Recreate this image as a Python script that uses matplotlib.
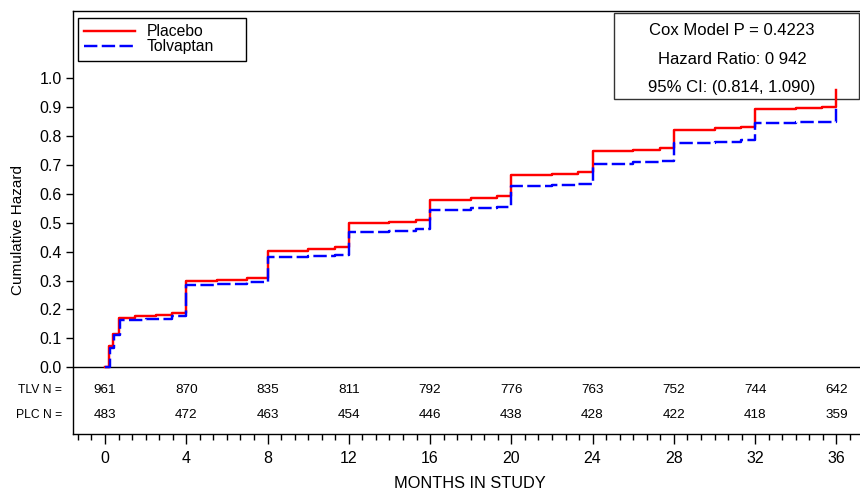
import matplotlib
matplotlib.use("Agg")
import matplotlib.pyplot as plt
from matplotlib.patches import Rectangle
from matplotlib.ticker import MultipleLocator
import matplotlib.transforms as mtransforms

plt.rcParams['font.family'] = ['Liberation Sans', 'DejaVu Sans']

# ---- data ----
plc_t = [0, 0.21, 0.41, 0.69, 1.5, 2.5, 3.3, 4.0, 5.5, 7.0, 8.0, 10.0, 11.3, 12.0, 14.0, 15.3,
         16.0, 18.0, 19.3, 20.0, 22.0, 23.3, 24.0, 26.0, 27.3, 28.0, 30.0, 31.3, 32.0, 34.0, 35.3, 36.0]
plc_h = [0, 0.072, 0.116, 0.170, 0.176, 0.182, 0.188, 0.297, 0.303, 0.310, 0.404, 0.410, 0.415, 0.499, 0.503, 0.508,
         0.580, 0.585, 0.591, 0.666, 0.670, 0.675, 0.749, 0.753, 0.758, 0.822, 0.827, 0.833, 0.893, 0.897, 0.900, 0.958]

tlv_t = [0, 0.23, 0.45, 0.72, 2.0, 3.3, 4.0, 5.5, 7.0, 8.0, 10.0, 11.3, 12.0, 14.0, 15.3,
         16.0, 18.0, 19.3, 20.0, 22.0, 23.3, 24.0, 26.0, 27.3, 28.0, 30.0, 31.3, 32.0, 34.0, 36.0]
tlv_h = [0, 0.066, 0.110, 0.162, 0.168, 0.177, 0.283, 0.288, 0.296, 0.380, 0.385, 0.390, 0.469, 0.473, 0.478,
         0.545, 0.550, 0.556, 0.628, 0.631, 0.634, 0.704, 0.709, 0.715, 0.776, 0.781, 0.787, 0.845, 0.848, 0.900]

risk_months = [0, 4, 8, 12, 16, 20, 24, 28, 32, 36]
tlv_n = [961, 870, 835, 811, 792, 776, 763, 752, 744, 642]
plc_n = [483, 472, 463, 454, 446, 438, 428, 422, 418, 359]

stats_lines = ["Cox Model P = 0.4223", "Hazard Ratio: 0 942", "95% CI: (0.814, 1.090)"]

# ---- figure ----
W, H = 860, 493
AW = W - 73
AH = 434 - 11
fig = plt.figure(figsize=(W / 100, H / 100), dpi=100)
ax = fig.add_axes([73 / W, 1 - 434 / H, AW / W, AH / H])

ax.plot(plc_t, plc_h, drawstyle='steps-post', color='#ff0000', lw=1.75, label='Placebo', zorder=3)
ax.plot(tlv_t, tlv_h, drawstyle='steps-post', color='#0000ff', lw=1.75, ls=(0, (5.5, 1.8)),
        label='Tolvaptan', zorder=4)

ax.axhline(0, color='black', lw=1.0, zorder=2)

ax.set_xlim(-1.575, 37.16)
ax.set_ylim(-0.231, 1.233)

ax.set_xticks(risk_months)
ax.xaxis.set_minor_locator(MultipleLocator(2 / 3))
ax.set_yticks([i / 10 for i in range(11)])
ax.set_yticklabels([f"{i / 10:.1f}" for i in range(11)])

ax.spines['right'].set_visible(False)
for s in ['left', 'bottom', 'top']:
    ax.spines[s].set_linewidth(1.0)

ax.tick_params(axis='x', which='major', direction='out', length=7, width=1, labelsize=11.5, pad=5)
ax.tick_params(axis='x', which='minor', direction='out', length=4, width=1)
ax.tick_params(axis='y', which='major', direction='out', length=5, width=1, labelsize=11.5, pad=3)

ax.set_xlabel("MONTHS IN STUDY", fontsize=11.8)
ax.xaxis.set_label_coords((470 - 73) / AW, (434 - 483) / AH, transform=ax.transAxes)
ax.xaxis.label.set_va('center')
ax.set_ylabel("Cumulative Hazard", fontsize=11)
ax.yaxis.set_label_coords((18 - 73) / AW, (434 - 230) / AH)
ax.yaxis.label.set_va('center')

# number at risk
for m, n in zip(risk_months, tlv_n):
    ax.text(m, -0.077, str(n), ha='center', va='center', fontsize=9.7)
for m, n in zip(risk_months, plc_n):
    ax.text(m, -0.165, str(n), ha='center', va='center', fontsize=9.7)
trans = mtransforms.blended_transform_factory(ax.transAxes, ax.transData)
ax.text((62 - 73) / AW, -0.077, "TLV N =", ha='right', va='center', fontsize=8.7, transform=trans)
ax.text((62 - 73) / AW, -0.165, "PLC N =", ha='right', va='center', fontsize=8.7, transform=trans)

# legend
lx0 = (78 - 73) / AW
lx1 = (246 - 73) / AW
ly1 = (434 - 18) / AH
leg = ax.legend(loc='upper left', bbox_to_anchor=(lx0, ly1 - 0.2, lx1 - lx0, 0.2), mode='expand',
                borderaxespad=0, fontsize=11.3, frameon=True, fancybox=False,
                edgecolor='black', framealpha=1, handlelength=3.2, handletextpad=0.75,
                labelspacing=0.0, borderpad=0.4)
leg.get_frame().set_linewidth(1.0)

# stats box
bx0 = (614 - 73) / AW
bx1 = (859 - 73) / AW
by0 = (434 - 99.3) / AH
by1 = (434 - 13.3) / AH
ax.add_patch(Rectangle((bx0, by0), bx1 - bx0, by1 - by0, transform=ax.transAxes,
                       facecolor='white', edgecolor='#333333', lw=1.0, zorder=2.5, clip_on=False))
cx = (732 - 73) / AW
for yy, s in zip([30.7, 59.3, 87.3], stats_lines):
    ax.text(cx, (434 - yy) / AH, s, transform=ax.transAxes, ha='center', va='center',
            fontsize=12, zorder=6)

fig.savefig("out.png", dpi=100)
